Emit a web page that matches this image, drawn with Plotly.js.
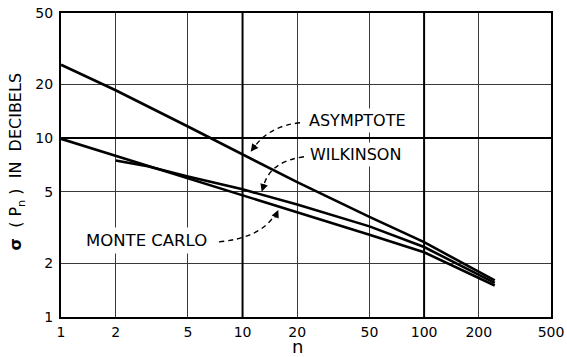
<!DOCTYPE html>
<html>
<head>
<meta charset="utf-8">
<script src="https://cdn.plot.ly/plotly-3.0.1.min.js"></script>
<style>
  html, body { margin: 0; padding: 0; background: #fff; }
  #chart { width: 567px; height: 357px; }
</style>
</head>
<body>
<div id="chart"></div>
<script>
// Standard deviation of the summed power (dB) versus number of components n
const xTicks = [1, 2, 5, 10, 20, 50, 100, 200, 500];
const yTicks = [1, 2, 5, 10, 20, 50];

const asymptoteN = [1, 2, 5, 10, 20, 50, 100, 245];
const asymptoteDb = [25.7, 18.5, 11.6, 8.13, 5.67, 3.63, 2.62, 1.6];

const wilkinsonN = [2, 3, 5, 10, 20, 50, 100, 245];
const wilkinsonDb = [7.5, 6.95, 6.1, 5.17, 4.25, 3.21, 2.46, 1.55];

const monteCarloN = [1, 2, 3, 5, 10, 20, 50, 100, 245];
const monteCarloDb = [9.9, 7.96, 7.0, 6.0, 4.82, 3.85, 2.88, 2.3, 1.5];

// heavier rulings at the decades
const decadeX = [10, 100];
const decadeY = [10];

const FONT = 'DejaVu Sans, Arial, sans-serif';
const xMin = xTicks[0], xMax = xTicks[xTicks.length - 1];
const yMin = yTicks[0], yMax = yTicks[yTicks.length - 1];

const traces = [];
decadeX.forEach(v => traces.push({
  x: [v, v], y: [yMin, yMax], mode: 'lines', hoverinfo: 'skip', showlegend: false,
  line: { color: '#000', width: 2 }
}));
decadeY.forEach(v => traces.push({
  x: [xMin, xMax], y: [v, v], mode: 'lines', hoverinfo: 'skip', showlegend: false,
  line: { color: '#000', width: 2 }
}));

const curveLine = { color: '#000', width: 2.6 };
traces.push({ x: asymptoteN, y: asymptoteDb, mode: 'lines', name: 'ASYMPTOTE', line: curveLine, showlegend: false });
traces.push({ x: wilkinsonN, y: wilkinsonDb, mode: 'lines', name: 'WILKINSON', line: curveLine, showlegend: false });
traces.push({ x: monteCarloN, y: monteCarloDb, mode: 'lines', name: 'MONTE CARLO', line: curveLine, showlegend: false });

const axisCommon = {
  type: 'log',
  showgrid: true, gridcolor: '#3a3a3a', gridwidth: 1,
  showline: true, linecolor: '#000', linewidth: 2, mirror: true,
  ticks: '', zeroline: false, automargin: false,
  tickfont: { family: FONT, size: 14, color: '#000' }
};

// leader curves from the labels to their lines (paper coordinates)
const dash = { color: '#000', width: 1.4, dash: '5px,4px' };
const shapes = [
  { type: 'path', xref: 'paper', yref: 'paper', line: dash,
    path: 'M 0.4878 0.6389 Q 0.4224 0.6280 0.3918 0.5525' },
  { type: 'path', xref: 'paper', yref: 'paper', line: dash,
    path: 'M 0.4959 0.5272 Q 0.4224 0.5108 0.4122 0.4216' },
  { type: 'path', xref: 'paper', yref: 'paper', line: dash,
    path: 'M 0.3224 0.2472 Q 0.4102 0.2604 0.4388 0.3424' }
];

const labelFont = { family: FONT, size: 16, color: '#000' };
const arrowHead = (x, y, ax, ay) => ({
  xref: 'paper', yref: 'paper', x: x, y: y, ax: ax, ay: ay, text: '',
  showarrow: true, arrowhead: 2, arrowsize: 1.1, arrowwidth: 1.4, arrowcolor: '#000',
  standoff: 0, startstandoff: 0
});

const annotations = [
  { xref: 'paper', yref: 'paper', x: 0.6041, y: 0.6450, text: 'ASYMPTOTE',
    showarrow: false, font: labelFont, bgcolor: '#fff', borderpad: 2,
    xanchor: 'center', yanchor: 'middle' },
  { xref: 'paper', yref: 'paper', x: 0.6016, y: 0.5354, text: 'WILKINSON',
    showarrow: false, font: labelFont, bgcolor: '#fff', borderpad: 2,
    xanchor: 'center', yanchor: 'middle' },
  { xref: 'paper', yref: 'paper', x: 0.1741, y: 0.2521, text: 'MONTE CARLO',
    showarrow: false, font: { family: FONT, size: 16.5, color: '#000' }, bgcolor: '#fff', borderpad: 3,
    xanchor: 'center', yanchor: 'middle' },
  arrowHead(0.3871, 0.5436, 6, -8),
  arrowHead(0.4096, 0.4123, 3, -9),
  arrowHead(0.4435, 0.3521, -4, 9),
  // axis titles
  { xref: 'paper', yref: 'paper', x: 0.482, y: -0.098, text: 'n',
    showarrow: false, font: { family: FONT, size: 18, color: '#000' },
    xanchor: 'center', yanchor: 'middle' },
  { xref: 'paper', yref: 'paper', x: -0.0898, y: 0.5115,
    text: '<b>σ</b>  ( P<sub>n</sub> )  IN  DECIBELS', textangle: -90,
    showarrow: false, font: { family: FONT, size: 16, color: '#000' },
    xanchor: 'center', yanchor: 'middle' }
];

const layout = {
  width: 567, height: 357,
  margin: { l: 61, r: 16, t: 13, b: 40, pad: 0 },
  paper_bgcolor: '#fff', plot_bgcolor: '#fff',
  showlegend: false,
  xaxis: Object.assign({}, axisCommon, {
    range: [Math.log10(xMin), Math.log10(xMax)],
    tickvals: xTicks, ticktext: xTicks.map(String), ticklabelstandoff: 1
  }),
  yaxis: Object.assign({}, axisCommon, {
    range: [Math.log10(yMin), Math.log10(yMax)],
    tickvals: yTicks, ticktext: yTicks.map(String), ticklabelstandoff: 3
  }),
  shapes: shapes,
  annotations: annotations
};

Plotly.newPlot('chart', traces, layout, { staticPlot: true, displayModeBar: false });
</script>
</body>
</html>
